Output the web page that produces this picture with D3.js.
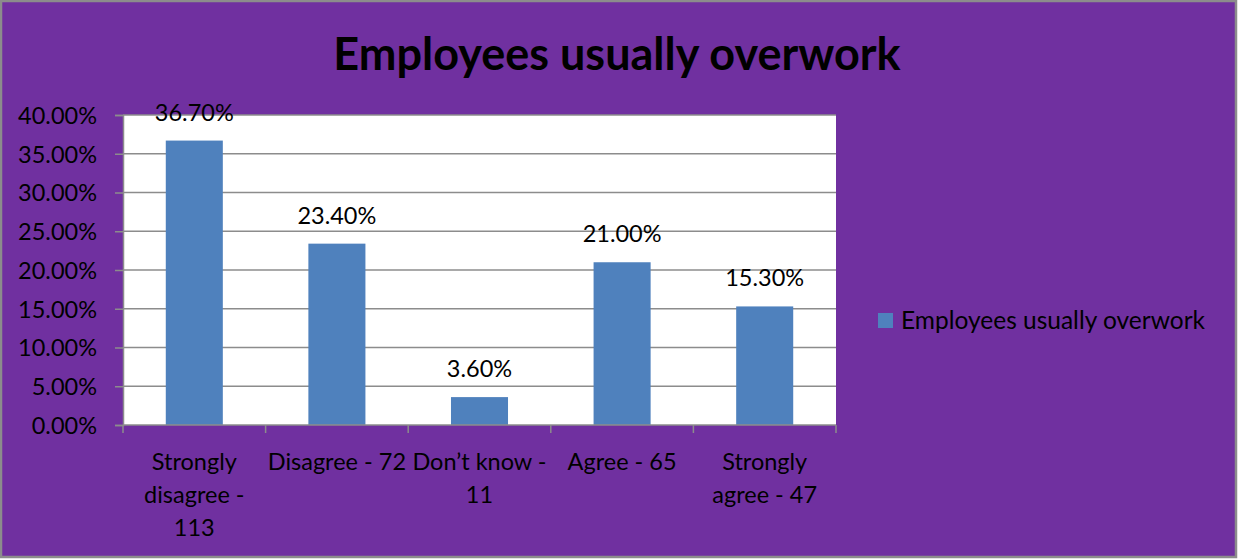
<!DOCTYPE html>
<html>
<head>
<meta charset="utf-8">
<script src="https://cdn.jsdelivr.net/npm/d3@7"></script>
<style>
  html, body { margin: 0; padding: 0; background: #fff; }
  svg { display: block; }
  text { font-family: Lato, "Open Sans", sans-serif; fill: #000; }
</style>
</head>
<body>
<script>
// Survey responses: share of employees per answer
const categories = [
  ["Strongly", "disagree -", "113"],
  ["Disagree - 72"],
  ["Don\u2019t know -", "11"],
  ["Agree - 65"],
  ["Strongly", "agree - 47"]
];
const values = [0.367, 0.234, 0.036, 0.21, 0.153];
const yTicks = [0, 0.05, 0.10, 0.15, 0.20, 0.25, 0.30, 0.35, 0.40];
const seriesName = "Employees usually overwork";
const chartTitle = "Employees usually overwork";

const W = 1238, H = 559;
const plot = { left: 123, right: 836, top: 115, bottom: 425 };
const fs = 23.5;

const svg = d3.select("body").append("svg").attr("width", W).attr("height", H);

// chart background with thin grey frame
svg.append("rect")
  .attr("x", 1).attr("y", 1).attr("width", W - 3).attr("height", H - 3)
  .attr("fill", "#7030A0").attr("stroke", "#8c8c8c").attr("stroke-width", 2.5);

// title
svg.append("text")
  .attr("x", 617).attr("y", 70)
  .attr("text-anchor", "middle")
  .attr("font-size", 45).attr("font-weight", "bold")
  .text(chartTitle);

// plot area
svg.append("rect")
  .attr("x", plot.left).attr("y", plot.top)
  .attr("width", plot.right - plot.left).attr("height", plot.bottom - plot.top)
  .attr("fill", "#fff");

const x = d3.scaleBand()
  .domain(d3.range(categories.length))
  .range([plot.left, plot.right])
  .paddingInner(0.6).paddingOuter(0.3);

const y = d3.scaleLinear().domain([0, 0.40]).range([plot.bottom, plot.top]);

// horizontal gridlines
svg.append("g").selectAll("line").data(yTicks.filter(d => d > 0)).join("line")
  .attr("x1", plot.left).attr("x2", plot.right)
  .attr("y1", d => y(d)).attr("y2", d => y(d))
  .attr("stroke", "#8c8c8c").attr("stroke-width", 1.5);

// bars
svg.append("g").selectAll("rect").data(values).join("rect")
  .attr("x", (d, i) => x(i)).attr("width", x.bandwidth())
  .attr("y", d => y(d)).attr("height", d => y(0) - y(d))
  .attr("fill", "#4F81BD");

// data labels
svg.append("g").selectAll("text").data(values).join("text")
  .attr("x", (d, i) => x(i) + x.bandwidth() / 2)
  .attr("y", d => y(d) - 20)
  .attr("text-anchor", "middle")
  .attr("font-size", fs)
  .text(d => d3.format(".2%")(d));

// y axis
const yAxis = svg.append("g")
  .attr("transform", `translate(${plot.left},0)`)
  .call(d3.axisLeft(y).tickValues(yTicks).tickFormat(d3.format(".2%")).tickSize(8).tickPadding(18));
yAxis.select(".domain").attr("stroke", "#8c8c8c").attr("stroke-width", 1.5);
yAxis.selectAll(".tick line").attr("stroke", "#8c8c8c").attr("stroke-width", 1.5);
yAxis.selectAll(".tick text").attr("font-size", fs).attr("font-family", "Lato, sans-serif").attr("fill", "#000").attr("dy", "0.36em");

// x axis baseline and category boundary ticks
const bounds = d3.range(categories.length + 1).map(i => plot.left + i * (plot.right - plot.left) / categories.length);
svg.append("line")
  .attr("x1", plot.left).attr("x2", plot.right)
  .attr("y1", plot.bottom).attr("y2", plot.bottom)
  .attr("stroke", "#8c8c8c").attr("stroke-width", 1.5);
svg.append("g").selectAll("line").data(bounds).join("line")
  .attr("x1", d => d).attr("x2", d => d)
  .attr("y1", plot.bottom).attr("y2", plot.bottom + 8)
  .attr("stroke", "#8c8c8c").attr("stroke-width", 1.5);

// category labels (wrapped)
const catG = svg.append("g").selectAll("text").data(categories).join("text")
  .attr("text-anchor", "middle")
  .attr("font-size", fs)
  .attr("x", (d, i) => x(i) + x.bandwidth() / 2)
  .attr("y", 470);
catG.selectAll("tspan").data(d => d).join("tspan")
  .attr("x", function () { return d3.select(this.parentNode).attr("x"); })
  .attr("dy", (d, j) => j === 0 ? 0 : 33)
  .text(d => d);

// legend
svg.append("rect").attr("x", 878).attr("y", 313).attr("width", 15).attr("height", 15).attr("fill", "#4F81BD");
svg.append("text").attr("x", 901).attr("y", 329).attr("font-size", 24.5).text(seriesName);
</script>
</body>
</html>
